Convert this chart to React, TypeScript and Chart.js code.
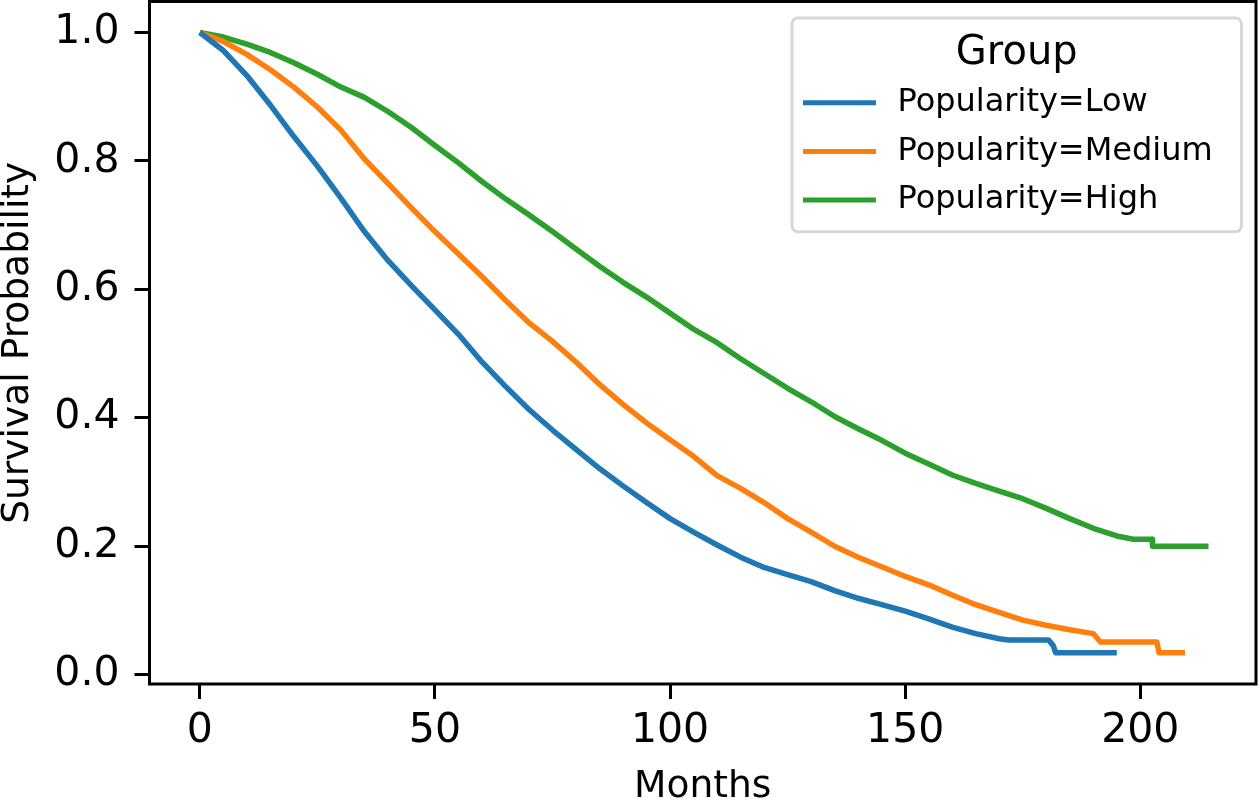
import React, { useEffect, useRef } from "react";
import { Chart, registerables } from "chart.js";

Chart.register(...registerables);

// ---- Data ----
const lowMonths = [0, 5, 10, 15, 20, 25, 30, 35, 40, 45, 50, 55, 60, 65, 70, 75, 80, 85, 90, 95, 100, 105, 110, 115, 120, 125, 130, 135, 140, 145, 150, 155, 160, 165, 170, 172, 180.5, 181.5, 182, 195];
const lowSurvival = [1.0, 0.972, 0.933, 0.887, 0.838, 0.792, 0.742, 0.69, 0.645, 0.606, 0.568, 0.53, 0.487, 0.449, 0.413, 0.381, 0.351, 0.321, 0.294, 0.268, 0.243, 0.222, 0.202, 0.183, 0.167, 0.156, 0.145, 0.131, 0.119, 0.109, 0.099, 0.087, 0.074, 0.064, 0.056, 0.054, 0.054, 0.045, 0.034, 0.034];

const mediumMonths = [0, 5, 10, 15, 20, 25, 30, 35, 40, 45, 50, 55, 60, 65, 70, 75, 80, 85, 90, 95, 100, 105, 110, 115, 120, 125, 130, 135, 140, 145, 150, 155, 160, 165, 170, 175, 180, 185, 190, 191.5, 203.5, 204, 209.5];
const mediumSurvival = [1.0, 0.986, 0.966, 0.942, 0.915, 0.884, 0.848, 0.803, 0.765, 0.727, 0.69, 0.655, 0.62, 0.583, 0.548, 0.519, 0.487, 0.452, 0.421, 0.392, 0.366, 0.34, 0.31, 0.29, 0.268, 0.243, 0.222, 0.2, 0.183, 0.168, 0.153, 0.14, 0.124, 0.109, 0.097, 0.085, 0.077, 0.07, 0.064, 0.051, 0.051, 0.034, 0.034];

const highMonths = [0, 5, 10, 15, 20, 25, 30, 35, 40, 45, 50, 55, 60, 65, 70, 75, 80, 85, 90, 95, 100, 105, 110, 115, 120, 125, 130, 135, 140, 145, 150, 155, 160, 165, 170, 175, 180, 185, 190, 195, 198.5, 202.5, 202.6, 214.5];
const highSurvival = [1.0, 0.993, 0.982, 0.969, 0.953, 0.935, 0.915, 0.899, 0.877, 0.852, 0.824, 0.797, 0.768, 0.741, 0.716, 0.69, 0.663, 0.636, 0.611, 0.588, 0.563, 0.538, 0.517, 0.492, 0.469, 0.446, 0.425, 0.402, 0.383, 0.365, 0.345, 0.328, 0.311, 0.298, 0.286, 0.274, 0.259, 0.243, 0.228, 0.216, 0.211, 0.211, 0.2, 0.2];

const seriesLabels = ["Popularity=Low", "Popularity=Medium", "Popularity=High"];
const seriesColors = ["#1f77b4", "#ff7f0e", "#2ca02c"];
const xTickValues = [0, 50, 100, 150, 200];
const yTickValues = [0, 0.2, 0.4, 0.6, 0.8, 1.0];
const xTitle = "Months";
const yTitle = "Survival Probability";
const legendTitle = "Group";

const FONT = "'DejaVu Sans', sans-serif";

const toPoints = (xs: number[], ys: number[]) => xs.map((x, i) => ({ x, y: ys[i] }));

const framePlugin = {
  id: "mplFrame",
  afterDatasetsDraw(chart: any) {
    const { ctx, chartArea: a } = chart;
    ctx.save();
    ctx.strokeStyle = "#000";
    ctx.lineWidth = 3;
    ctx.strokeRect(a.left, a.top, a.right - a.left, a.bottom - a.top);
    ctx.restore();
  },
};

const legendPlugin = {
  id: "mplLegend",
  afterDraw(chart: any) {
    const { ctx, chartArea: a } = chart;
    const right = a.right - 14.5;
    const left = right - 449.5;
    const top = a.top + 16.5;
    const height = 213.7;
    ctx.save();
    ctx.beginPath();
    ctx.roundRect(left, top, right - left, height, 6);
    ctx.fillStyle = "rgba(255,255,255,0.8)";
    ctx.fill();
    ctx.strokeStyle = "#d6d6d6";
    ctx.lineWidth = 3;
    ctx.stroke();

    ctx.fillStyle = "#000";
    ctx.font = `40px ${FONT}`;
    ctx.textAlign = "center";
    ctx.textBaseline = "alphabetic";
    ctx.fillText(legendTitle, (left + right) / 2, top + 45.5);

    ctx.font = `32px ${FONT}`;
    ctx.textAlign = "left";
    ctx.textBaseline = "middle";
    chart.data.datasets.forEach((ds: any, i: number) => {
      const y = top + 84.7 + i * 48.7;
      ctx.strokeStyle = ds.borderColor;
      ctx.lineWidth = 5;
      ctx.lineCap = "butt";
      ctx.beginPath();
      ctx.moveTo(left + 11, y);
      ctx.lineTo(left + 84, y);
      ctx.stroke();
      ctx.fillStyle = "#000";
      ctx.fillText(ds.label, left + 105.5, y);
    });
    ctx.restore();
  },
};

export default function App() {
  const canvasRef = useRef<HTMLCanvasElement | null>(null);

  useEffect(() => {
    const canvas = canvasRef.current;
    if (!canvas) return;
    const seriesX = [lowMonths, mediumMonths, highMonths];
    const seriesY = [lowSurvival, mediumSurvival, highSurvival];
    const chart = new Chart(canvas, {
      type: "line",
      data: {
        datasets: seriesLabels.map((label, i) => ({
          label,
          data: toPoints(seriesX[i], seriesY[i]),
          borderColor: seriesColors[i],
          backgroundColor: seriesColors[i],
          borderWidth: 5.5,
          pointRadius: 0,
          tension: 0,
          fill: false,
          borderCapStyle: "butt",
          borderJoinStyle: "round",
        })),
      },
      options: {
        animation: false,
        responsive: false,
        maintainAspectRatio: false,
        devicePixelRatio: 1,
        layout: { padding: { top: 1.5, right: 4, left: 0, bottom: 0 } },
        plugins: {
          legend: { display: false },
          tooltip: { enabled: false },
        },
        scales: {
          x: {
            type: "linear",
            min: -10.7,
            max: 224.6,
            afterBuildTicks: (s: any) => {
              s.ticks = xTickValues.map((v) => ({ value: v }));
            },
            afterFit: (s: any) => {
              s.height = 117;
              s.paddingLeft = 0;
              s.paddingRight = 0;
            },
            grid: {
              display: true,
              drawOnChartArea: false,
              drawTicks: true,
              tickLength: 15,
              tickWidth: 3,
              tickColor: "#000",
            },
            border: { display: false },
            ticks: {
              color: "#000",
              font: { family: FONT, size: 41 },
              padding: 8,
              maxRotation: 0,
              autoSkip: false,
              callback: (v: any) => String(v),
            },
            title: {
              display: true,
              text: xTitle,
              color: "#000",
              font: { family: FONT, size: 37.6, lineHeight: 0.6 },
              padding: { top: 0, bottom: 2 },
            },
          },
          y: {
            type: "linear",
            min: -0.0145,
            max: 1.0483,
            afterBuildTicks: (s: any) => {
              s.ticks = yTickValues.map((v) => ({ value: v }));
            },
            afterFit: (s: any) => {
              s.width = 149.5;
              s.paddingTop = 0;
              s.paddingBottom = 0;
            },
            grid: {
              display: true,
              drawOnChartArea: false,
              drawTicks: true,
              tickLength: 15,
              tickWidth: 3,
              tickColor: "#000",
            },
            border: { display: false },
            ticks: {
              color: "#000",
              font: { family: FONT, size: 41 },
              padding: 15,
              autoSkip: false,
              callback: (v: any) => Number(v).toFixed(1),
            },
            title: {
              display: true,
              text: yTitle,
              color: "#000",
              font: { family: FONT, size: 37.6, lineHeight: 0.6 },
              padding: { top: 7, bottom: 0 },
            },
          },
        },
      },
      plugins: [framePlugin, legendPlugin],
    } as any);
    return () => chart.destroy();
  }, []);

  return (
    <div style={{ position: "fixed", left: 0, top: 0, width: 1260, height: 801, background: "#fff" }}>
      <canvas ref={canvasRef} width={1260} height={801} style={{ display: "block" }} />
    </div>
  );
}
